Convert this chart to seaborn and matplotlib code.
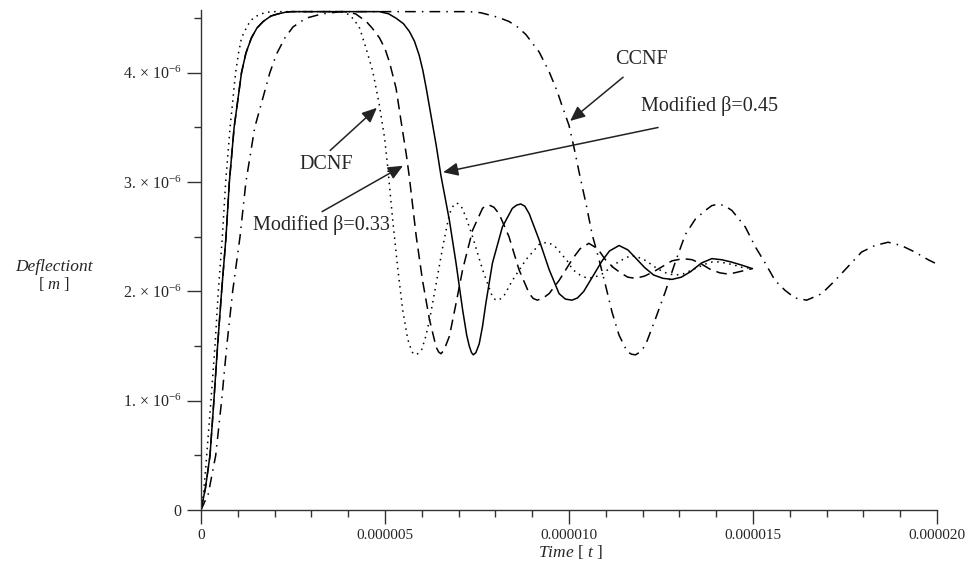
import numpy as np
import pandas as pd
import matplotlib
matplotlib.use("Agg")
import matplotlib.pyplot as plt
import seaborn as sns

# ---- data (time in microseconds, deflection in micrometres) ----
dcnf_t = [0, 0.07, 0.155, 0.27, 0.38, 0.47, 0.58, 0.67, 0.79, 0.94, 1.02, 1.10, 1.20, 1.33,
          1.45, 1.64, 1.80, 2.0,
          3.77, 3.90, 4.04, 4.17, 4.31, 4.49, 4.67, 4.85, 4.99, 5.08, 5.21, 5.35, 5.48, 5.62,
          5.69, 5.75, 5.86, 6.0, 6.10, 6.21, 6.39, 6.57, 6.75, 6.85, 6.95, 7.07, 7.20, 7.38,
          7.65, 7.92, 8.0, 8.10, 8.25, 8.46, 8.83, 9.19, 9.40, 9.60, 9.75, 9.95, 10.1, 10.3,
          10.5, 10.7, 10.9, 11.1, 11.3, 11.5, 11.7, 11.9, 12.1, 12.3, 12.5, 12.7, 12.9, 13.1,
          13.3, 13.5, 13.7, 13.9, 14.05, 14.25, 14.5, 14.7, 15.0]
dcnf_y = [0, 0.15, 0.5, 1.0, 1.5, 2.0, 2.5, 3.0, 3.5, 4.0, 4.18, 4.32, 4.39, 4.47,
          4.51, 4.54, 4.555, 4.56,
          4.56, 4.55, 4.53, 4.48, 4.41, 4.22, 4.01, 3.70, 3.40, 3.12, 2.65, 2.20, 1.83, 1.56,
          1.49, 1.44, 1.42, 1.47, 1.58, 1.74, 2.07, 2.41, 2.71, 2.78, 2.81, 2.78, 2.68, 2.50,
          2.20, 1.95, 1.925, 1.92, 1.97, 2.10, 2.29, 2.43, 2.45, 2.42, 2.36, 2.28, 2.20, 2.15,
          2.12, 2.13, 2.16, 2.21, 2.26, 2.30, 2.33, 2.31, 2.28, 2.23, 2.19, 2.16, 2.15, 2.16,
          2.19, 2.22, 2.25, 2.27, 2.27, 2.26, 2.24, 2.22, 2.21]

b33_t = [0, 0.12, 0.245, 0.35, 0.45, 0.56, 0.68, 0.77, 0.90, 1.10, 1.22, 1.37, 1.52, 1.69,
         1.90, 2.1, 2.3, 2.46,
         3.9, 4.2, 4.49, 4.65, 4.85, 5.0, 5.12, 5.30, 5.44, 5.58, 5.66, 5.85, 6.02, 6.21,
         6.39, 6.46, 6.52, 6.60, 6.75, 6.93, 7.11, 7.38, 7.65, 7.74, 7.83, 7.96, 8.10, 8.37,
         8.64, 8.92, 9.03, 9.14, 9.30, 9.46, 9.73, 10.1, 10.3, 10.54, 10.78, 10.99, 11.2,
         11.4, 11.6, 11.81, 12.05, 12.3, 12.55, 12.8, 13.1, 13.35, 13.6, 13.85, 14.1, 14.3,
         14.5, 14.75, 15.0]
b33_y = [0, 0.2, 0.5, 1.0, 1.5, 2.0, 2.5, 3.0, 3.5, 4.0, 4.18, 4.32, 4.41, 4.47,
         4.52, 4.54, 4.555, 4.56,
         4.56, 4.54, 4.47, 4.41, 4.32, 4.22, 4.10, 3.86, 3.55, 3.25, 3.05, 2.50, 2.10, 1.74,
         1.49, 1.445, 1.43, 1.46, 1.59, 1.89, 2.20, 2.56, 2.76, 2.785, 2.79, 2.77, 2.71, 2.50,
         2.20, 1.98, 1.935, 1.92, 1.94, 1.98, 2.10, 2.30, 2.39, 2.44, 2.39, 2.29, 2.22,
         2.17, 2.13, 2.12, 2.14, 2.18, 2.23, 2.28, 2.30, 2.29, 2.25, 2.20, 2.17, 2.16,
         2.17, 2.19, 2.21]

b45_t = [0, 0.12, 0.245, 0.35, 0.45, 0.56, 0.68, 0.77, 0.90, 1.10, 1.22, 1.37, 1.52, 1.69,
         1.90, 2.1, 2.3, 2.46,
         4.85, 5.10, 5.30, 5.50, 5.66, 5.80, 5.93, 6.03, 6.12, 6.25, 6.39, 6.52, 6.75, 6.93,
         7.11, 7.22, 7.29, 7.35, 7.40, 7.47, 7.56, 7.65, 7.74, 7.92, 8.19, 8.46, 8.58, 8.69,
         8.80, 8.92, 9.19, 9.46, 9.73, 9.90, 10.08, 10.23, 10.4, 10.65, 10.9, 11.1, 11.36,
         11.6, 11.8, 12.05, 12.3, 12.55, 12.8, 13.05, 13.3, 13.6, 13.88, 14.15, 14.4, 14.7,
         14.97]
b45_y = [0, 0.2, 0.5, 1.0, 1.5, 2.0, 2.5, 3.0, 3.5, 4.0, 4.18, 4.32, 4.41, 4.47,
         4.52, 4.54, 4.555, 4.56,
         4.56, 4.54, 4.50, 4.45, 4.38, 4.29, 4.16, 4.02, 3.86, 3.61, 3.34, 3.06, 2.65, 2.26,
         1.83, 1.60, 1.50, 1.44, 1.42, 1.44, 1.52, 1.68, 1.89, 2.26, 2.59, 2.76, 2.79, 2.80,
         2.78, 2.71, 2.47, 2.20, 1.98, 1.93, 1.92, 1.94, 2.00, 2.14, 2.28, 2.37, 2.42,
         2.38, 2.31, 2.22, 2.15, 2.12, 2.11, 2.13, 2.18, 2.26, 2.30, 2.29, 2.27, 2.24,
         2.21]

ccnf_t = [0, 0.2, 0.40, 0.56, 0.70, 0.86, 1.06, 1.22, 1.46, 1.87, 2.05, 2.28, 2.5, 2.85, 3.3,
          3.8,
          7.29, 7.60, 7.83, 8.10, 8.37, 8.60, 8.83, 9.19, 9.46, 9.68, 9.82, 10.0, 10.14,
          10.30, 10.47, 10.63, 10.81, 10.99, 11.17, 11.36, 11.58, 11.70, 11.81, 11.95, 12.08,
          12.35, 12.62, 12.89, 13.16, 13.43, 13.70, 13.88, 14.07, 14.25, 14.43, 14.79, 15.06,
          15.33, 15.60, 15.87, 16.14, 16.46, 16.87, 17.23, 17.59, 17.95, 18.31, 18.67, 19.03,
          19.40, 19.76, 20.0]
ccnf_y = [0, 0.15, 0.5, 1.0, 1.5, 2.0, 2.5, 3.0, 3.5, 4.0, 4.17, 4.32, 4.42, 4.50, 4.54,
          4.56,
          4.56, 4.55, 4.53, 4.505, 4.47, 4.42, 4.35, 4.19, 4.01, 3.83, 3.69, 3.52, 3.31,
          3.05, 2.79, 2.52, 2.30, 2.06, 1.81, 1.60, 1.45, 1.425, 1.42, 1.45, 1.51,
          1.75, 2.00, 2.27, 2.52, 2.66, 2.74, 2.785, 2.80, 2.78, 2.74, 2.59, 2.41,
          2.26, 2.10, 2.01, 1.94, 1.92, 1.98, 2.10, 2.23, 2.36, 2.42, 2.45, 2.42,
          2.36, 2.29, 2.25]

xtick_vals = [0, 5, 10, 15, 20]
xtick_labels = ["0", "0.000005", "0.000010", "0.000015", "0.000020"]
ytick_vals = [0, 1, 2, 3, 4]
ytick_labels = ["0", "1. \u00d7 10$^{-6}$", "2. \u00d7 10$^{-6}$",
                "3. \u00d7 10$^{-6}$", "4. \u00d7 10$^{-6}$"]

# ---- style ----
sns.set_style("ticks")
plt.rcParams["font.family"] = ["Liberation Serif", "DejaVu Serif"]
plt.rcParams["mathtext.fontset"] = "custom"
plt.rcParams["mathtext.rm"] = "Liberation Serif"
plt.rcParams["mathtext.it"] = "Liberation Serif:italic"

frames = []
for name, t, y in [("DCNF", dcnf_t, dcnf_y), ("b33", b33_t, b33_y),
                   ("b45", b45_t, b45_y), ("CCNF", ccnf_t, ccnf_y)]:
    frames.append(pd.DataFrame({"t": np.array(t) * 1e-6, "y": np.array(y) * 1e-6,
                                "series": name}))
df = pd.concat(frames, ignore_index=True)

fig = plt.figure(figsize=(9.74, 5.69), dpi=100)
ax = fig.add_axes([201 / 974, 1 - 510 / 569, 736 / 974, 500 / 569])

styles = {"DCNF": (0, (1, 3)), "b33": (0, (7, 4)), "b45": "-", "CCNF": (0, (7, 4, 1, 4))}
for name, ls in styles.items():
    sub = df[df["series"] == name]
    sns.lineplot(data=sub, x="t", y="y", ax=ax, color="black", linewidth=1.1,
                 linestyle=ls, estimator=None, sort=False, legend=False)

ax.set_xlim(0, 20e-6)
ax.set_ylim(0, 4.575e-6)
for s in ["top", "right"]:
    ax.spines[s].set_visible(False)
for s in ["left", "bottom"]:
    ax.spines[s].set_linewidth(1.0)
    ax.spines[s].set_color("#333333")

ax.set_xticks(np.array(xtick_vals) * 1e-6)
ax.set_xticklabels(xtick_labels, fontsize=11)
ax.set_xticks(np.arange(0, 20.1, 1) * 1e-6, minor=True)
ax.set_yticks(np.array(ytick_vals) * 1e-6)
ax.set_yticklabels(ytick_labels, fontsize=11.5)
ax.set_yticks(np.arange(0, 4.51, 0.5) * 1e-6, minor=True)
ax.tick_params(axis="both", which="major", length=10, width=1.0, color="#333333", pad=4)
ax.tick_params(axis="both", which="minor", length=5, width=1.0, color="#333333")
ax.set_xlabel("")
ax.set_ylabel("")

fig.text(54 / 974, 1 - 267 / 569, "Deflectiont", ha="center", va="center",
         fontsize=12.5, style="italic")
fig.text(54 / 974, 1 - 284 / 569, "[ $m$ ]", ha="center", va="center", fontsize=12)
fig.text(570 / 974, 1 - 552 / 569, "$Time$ [ $t$ ]", ha="center", va="center",
         fontsize=12.5)

u = 1e-6
arrow_kw = dict(arrowstyle="-|>,head_length=0.9,head_width=0.4", color="#222222",
                lw=1.1, shrinkA=0, shrinkB=0)
ax.annotate("", xy=(4.78 * u, 3.68 * u), xytext=(3.51 * u, 3.29 * u), arrowprops=arrow_kw)
ax.annotate("", xy=(5.49 * u, 3.15 * u), xytext=(3.29 * u, 2.73 * u), arrowprops=arrow_kw)
ax.annotate("", xy=(6.58 * u, 3.09 * u), xytext=(12.42 * u, 3.50 * u), arrowprops=arrow_kw)
ax.annotate("", xy=(10.03 * u, 3.56 * u), xytext=(11.47 * u, 3.96 * u), arrowprops=arrow_kw)

tkw = dict(ha="center", va="center", fontsize=14.5)
ax.text(11.98 * u, 4.12 * u, "CCNF", **tkw)
ax.text(13.83 * u, 3.70 * u, "Modified \u03b2=0.45", **tkw)
ax.text(3.40 * u, 3.16 * u, "DCNF", **tkw)
ax.text(3.26 * u, 2.61 * u, "Modified \u03b2=0.33", **tkw)

fig.savefig("out.png", dpi=100)
